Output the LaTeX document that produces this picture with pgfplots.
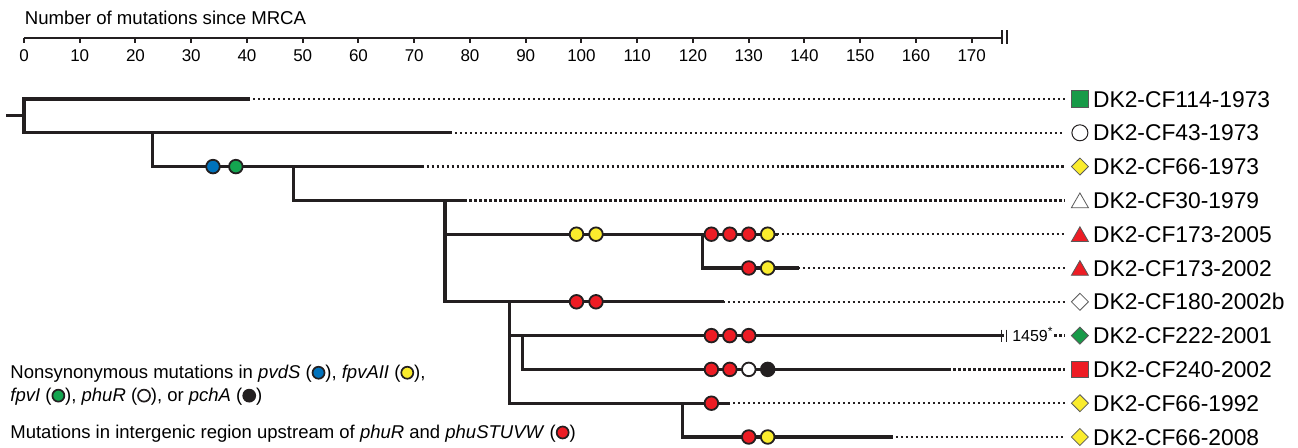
\documentclass[border=0pt]{standalone}
\usepackage{fontspec}
\setmainfont{Liberation Sans}
\usepackage{pgfplots}
\pgfplotsset{compat=1.18}

\definecolor{mred}{RGB}{237,28,36}
\definecolor{myel}{RGB}{250,236,45}
\definecolor{mblue}{RGB}{0,114,188}
\definecolor{mgreen}{RGB}{20,165,80}
\definecolor{lgreen}{RGB}{24,154,72}
\definecolor{mblack}{RGB}{35,31,32}

% small outlined circle used inside the key text
\newcommand{\lc}[1]{\tikz[baseline=-0.6ex]\draw[fill=#1,draw=mblack,line width=0.85pt] (0,0) circle (3pt);}
\newcommand{\labf}{\fontsize{11.4}{13}\selectfont}
\newcommand{\keyf}{\fontsize{9.25}{11}\selectfont}

\pgfplotsset{
  br/.style={mblack, line width=1.65pt, line cap=rect, no marks},
  dt/.style={mblack, line width=1.25pt, dash pattern=on 1.15pt off 1.35pt, no marks},
  mut/.style={only marks, mark=*, mark size=3.4pt,
    mark options={draw=mblack, line width=0.9pt, fill=#1}},
  tip/.style={only marks, mark options={draw=black!65, line width=0.4pt, fill=#1}},
  dmd/.style={only marks, mark=diamond*, mark size=4.25pt,
    mark options={xscale=1.333, draw=black!65, line width=0.4pt, fill=#1}},
}

\begin{document}
\begin{tikzpicture}
\begin{axis}[
    scale only axis,
    width=649pt, height=224pt,
    xmin=-4.305, xmax=228.52,
    ymin=-11.325, ymax=1.929,
    hide axis, clip=false,
]
% branches (x = mutations since MRCA, y = -row)
\addplot[br] coordinates {(-2.9,-1.49) (0,-1.49)};
\addplot[br] coordinates {(40.2,-1) (0,-1) (0,-2) (76.4,-2)};
\addplot[br] coordinates {(23.1,-2) (23.1,-3) (71.3,-3)};
\addplot[br] coordinates {(48.3,-3) (48.3,-4) (79,-4)};
\addplot[br] coordinates {(75.5,-4) (75.5,-7) (125.3,-7)};
\addplot[br] coordinates {(75.5,-5) (135,-5)};
\addplot[br] coordinates {(121.7,-5) (121.7,-6) (138.8,-6)};
\addplot[br] coordinates {(87.1,-7) (87.1,-10) (126.3,-10)};
\addplot[br] coordinates {(87.1,-8) (175.4,-8)};
\addplot[br] coordinates {(89.4,-8) (89.4,-9) (165.8,-9)};
\addplot[br] coordinates {(118.1,-10) (118.1,-11) (155.5,-11)};

% break on the long branch
\addplot[mblack, line width=0.6pt, no marks] coordinates {(175.4,-7.82) (175.4,-8.18)};
\addplot[mblack, line width=0.6pt, no marks] coordinates {(176.3,-7.82) (176.3,-8.18)};
\node[anchor=base west, inner sep=0, font=\fontsize{8}{9}\selectfont]
  at (axis cs:177.2,-8.166) {1459\textsuperscript{*}};

% dotted leaders to the isolate labels
\addplot[dt] coordinates {(40.2,-1) (186.7,-1)};
\addplot[dt] coordinates {(76.4,-2) (186.7,-2)};
\addplot[dt] coordinates {(71.3,-3) (186.7,-3)};
\addplot[dt] coordinates {(79,-4) (186.7,-4)};
\addplot[dt] coordinates {(135,-5) (186.7,-5)};
\addplot[dt] coordinates {(138.8,-6) (186.7,-6)};
\addplot[dt] coordinates {(125.3,-7) (186.7,-7)};
\addplot[dt] coordinates {(184.8,-8) (186.7,-8)};
\addplot[dt] coordinates {(165.8,-9) (186.7,-9)};
\addplot[dt] coordinates {(126.3,-10) (186.7,-10)};
\addplot[dt] coordinates {(155.5,-11) (186.7,-11)};

% mutations on branches
\addplot[mut=mblue] coordinates {(33.9,-3)};
\addplot[mut=mgreen] coordinates {(38.0,-3)};
\addplot[mut=myel] coordinates {(99.1,-5) (102.6,-5) (133.4,-5) (133.4,-6) (133.4,-11)};
\addplot[mut=mred] coordinates {
  (123.3,-5) (126.6,-5) (130.0,-5)
  (130.0,-6)
  (99.1,-7) (102.6,-7)
  (123.3,-8) (126.6,-8) (130.0,-8)
  (123.3,-9) (126.6,-9)
  (123.3,-10)
  (130.0,-11)};
\addplot[mut=white] coordinates {(130.0,-9)};
\addplot[mut=mblack] coordinates {(133.4,-9)};

% isolate symbols
\addplot[tip=lgreen, mark=square*, mark size=4.2pt] coordinates {(189.4,-1)};
\addplot[only marks, mark=*, mark size=4pt, mark options={draw=mblack, line width=0.5pt, fill=white}] coordinates {(189.4,-2)};
\addplot[dmd=myel] coordinates {(189.4,-3) (189.4,-10) (189.4,-11)};
\addplot[tip=white, mark=triangle*, mark size=4.9pt] coordinates {(189.4,-4.07)};
\addplot[tip=mred, mark=triangle*, mark size=4.9pt] coordinates {(189.4,-5.07) (189.4,-6.07)};
\addplot[dmd=white] coordinates {(189.4,-7)};
\addplot[dmd=lgreen] coordinates {(189.4,-8)};
\addplot[tip=mred, mark=square*, mark size=4.2pt] coordinates {(189.4,-9)};

% isolate names
\foreach \r/\t in {1/DK2-CF114-1973, 2/DK2-CF43-1973, 3/DK2-CF66-1973,
    4/DK2-CF30-1979, 5/DK2-CF173-2005, 6/DK2-CF173-2002, 7/DK2-CF180-2002b,
    8/DK2-CF222-2001, 9/DK2-CF240-2002, 10/DK2-CF66-1992, 11/DK2-CF66-2008} {
  \edef\temp{\noexpand\node[anchor=base west, inner sep=0, font=\noexpand\labf]
    at (axis cs:191.7,-\r-0.24) {\t};}
  \temp
}

% scale break at the end of the top axis
\addplot[mblack, line width=0.9pt, no marks] coordinates {(175.4,1.041) (175.4,0.627)};
\addplot[mblack, line width=0.9pt, no marks] coordinates {(176.3,1.041) (176.3,0.627)};

\node[anchor=base west, inner sep=0, font=\fontsize{9.3}{11}\selectfont]
  at (axis cs:0.1,1.199) {Number of mutations since MRCA};

\coordinate (key1) at (axis cs:-2.51,-9.272);
\coordinate (key2) at (axis cs:-2.51,-9.95);
\coordinate (key3) at (axis cs:-2.51,-11.04);
\coordinate (bbA) at (rel axis cs:0,0);
\coordinate (bbB) at (rel axis cs:1,1);
\coordinate (sc0) at (axis cs:0,0.814);
\end{axis}

% top scale
\begin{axis}[
    at={(sc0)}, anchor=south west,
    scale only axis,
    width=488.9pt, height=10pt,
    xmin=0, xmax=175.4, ymin=0, ymax=1,
    axis x line=bottom, hide y axis,
    axis line style={-, line width=1pt, mblack},
    xtick={0,10,...,170},
    tick align=outside,
    major tick length=2.6pt,
    xtick style={line width=1pt, mblack},
    ticklabel style={font=\fontsize{8.5}{10}\selectfont},
    /pgf/number format/assume math mode=true,
]
\addplot[draw=none] coordinates {(0,0)};
\end{axis}

% key, set outside the axes so the inline circles stay in place
\node[anchor=base west, inner sep=0, font=\keyf] at (key1)
  {Nonsynonymous mutations in \textit{pvdS} (\lc{mblue}), \textit{fpvAII} (\lc{myel}),};
\node[anchor=base west, inner sep=0, font=\keyf] at (key2)
  {\textit{fpvI} (\lc{mgreen}), \textit{phuR} (\lc{white}), or \textit{pchA} (\lc{mblack})};
\node[anchor=base west, inner sep=0, font=\keyf] at (key3)
  {Mutations in intergenic region upstream of \textit{phuR} and \textit{phuSTUVW} (\lc{mred})};

\pgfresetboundingbox
\useasboundingbox (bbA) rectangle (bbB);
\end{tikzpicture}
\end{document}
